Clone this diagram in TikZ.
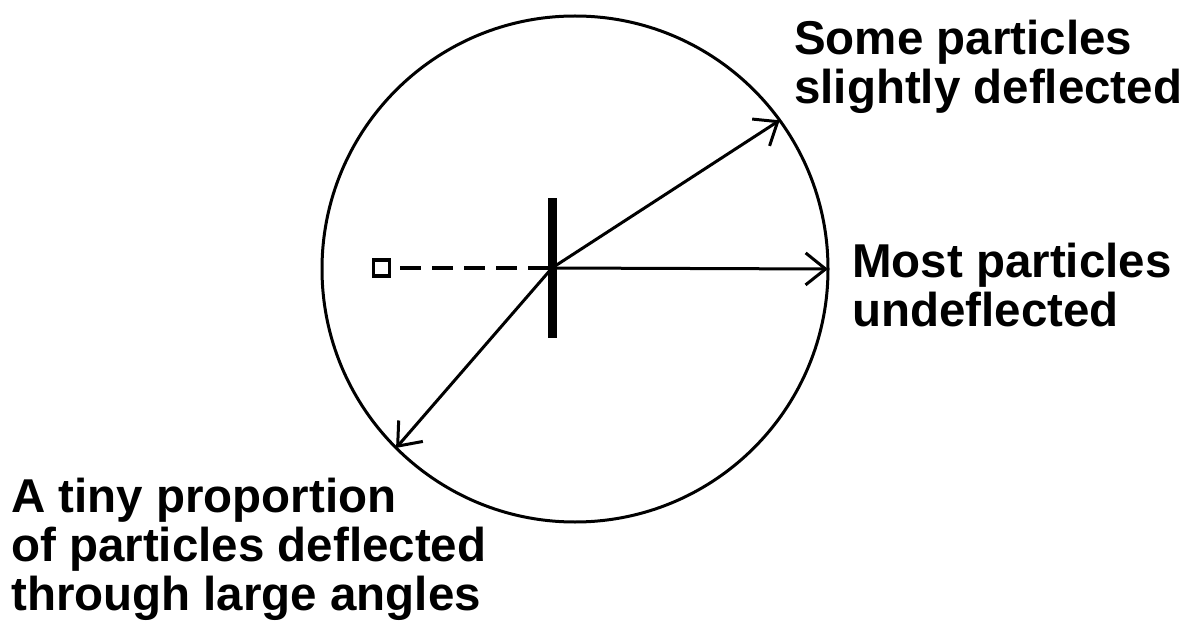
\documentclass[tikz,border=0pt]{standalone}
\usepackage{fontspec}
\setmainfont{Liberation Sans}
\usetikzlibrary{arrows.meta}
\begin{document}
\begin{tikzpicture}[x=1pt,y=-1pt,
  lbl/.style={anchor=north west,inner sep=0pt,align=left,font=\fontsize{47.5}{49}\selectfont\bfseries},
  ray/.style={line width=3pt,-{Straight Barb[length=20pt,width=32pt,line width=3pt]}}]
\useasboundingbox (0,0) rectangle (1195,631);
\node[circle,draw,line width=3pt,minimum size=506pt,inner sep=0pt,outer sep=0pt] (c) at (575,269) {};
\coordinate (o) at (552,268);
\node[draw,line width=3.5pt,minimum width=16pt,minimum height=16pt,inner sep=0pt] (src) at (381.5,268) {};
\draw[line width=3.5pt,dash pattern=on 21pt off 11pt] (400,268) -- (o);
\node[fill=black,minimum width=9pt,minimum height=140pt,inner sep=0pt] (foil) at (o) {};
\draw[ray] (o) -- (c.0);
\draw[ray] (o) -- (c.36.6);
\draw[ray] (o) -- (c.225.8);
\node[lbl] (t1) at (794,20) {Some particles\\slightly deflected};
\node[lbl] (t2) at (852,243) {Most particles\\undeflected};
\node[lbl] (t3) at (11,478) {A tiny proportion\\of particles deflected\\through large angles};
\end{tikzpicture}
\end{document}
